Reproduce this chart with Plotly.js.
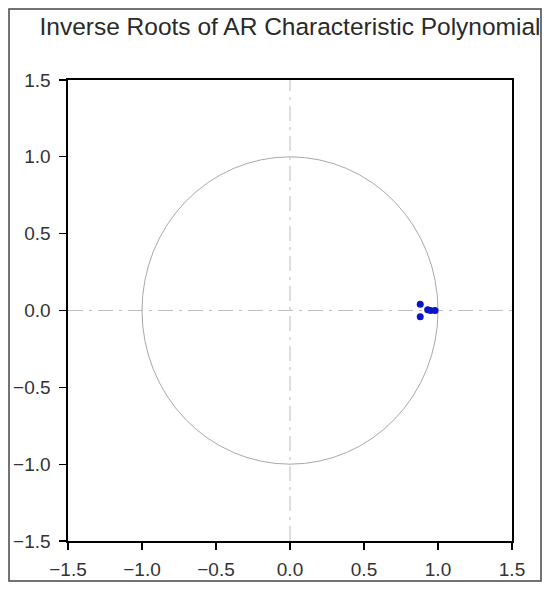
<!DOCTYPE html>
<html><head><meta charset="utf-8">
<script src="https://cdn.plot.ly/plotly-3.0.1.min.js"></script>
<style>html,body{margin:0;padding:0;background:#fff}#chart{width:550px;height:591px}</style>
</head><body><div id="chart"></div>
<script>
const rootsReal = [0.88, 0.88, 0.93, 0.95, 0.98];
const rootsImag = [0.04, -0.04, 0.005, 0.0, 0.0];
const tickVals = [-1.5, -1.0, -0.5, 0.0, 0.5, 1.0, 1.5];
const tickText = ["\u22121.5", "\u22121.0", "\u22120.5", "0.0", "0.5", "1.0", "1.5"];
const axisRange = [-1.5, 1.5];
const unitRadius = 1;

const traces = [{
  x: rootsReal, y: rootsImag, type: 'scatter', mode: 'markers',
  marker: {color: '#0a14c8', size: 7, symbol: 'circle'},
  hoverinfo: 'x+y', showlegend: false
}];

const axisCommon = {
  range: axisRange, tickvals: tickVals, ticktext: tickText,
  ticks: 'outside', ticklen: 7, tickwidth: 1.3, tickcolor: '#000',
  showline: true, linecolor: '#000', linewidth: 1.6, mirror: true,
  showgrid: false, zeroline: false, fixedrange: true,
  tickfont: {family: 'Liberation Sans, Arial, sans-serif', size: 19, color: '#333'}
};

const layout = {
  width: 550, height: 591,
  margin: {l: 68, r: 38, t: 80, b: 50},
  paper_bgcolor: '#fff', plot_bgcolor: '#fff',
  title: {text: 'Inverse Roots of AR Characteristic Polynomial', x: 290 / 550, xanchor: 'center',
          y: 1 - 26 / 591, yanchor: 'middle', yref: 'container',
          font: {family: 'Liberation Sans, Arial, sans-serif', size: 24.5, color: '#2a2a2a'}},
  xaxis: Object.assign({}, axisCommon, {ticklabelstandoff: 4}),
  yaxis: Object.assign({}, axisCommon, {ticklabelstandoff: 5}),
  shapes: [
    {type: 'circle', xref: 'x', yref: 'y', x0: -unitRadius, x1: unitRadius, y0: -unitRadius, y1: unitRadius,
     line: {color: '#a8a8a8', width: 1}, layer: 'below'},
    {type: 'line', xref: 'x', yref: 'y', x0: 0, x1: 0, y0: axisRange[0], y1: axisRange[1],
     line: {color: '#bdbdbd', width: 1, dash: 'longdashdot'}, layer: 'below'},
    {type: 'line', xref: 'x', yref: 'y', x0: axisRange[0], x1: axisRange[1], y0: 0, y1: 0,
     line: {color: '#bdbdbd', width: 1, dash: 'longdashdot'}, layer: 'below'},
    {type: 'rect', xref: 'paper', yref: 'paper',
     x0: (9 - 68) / 444, x1: (541 - 68) / 444, y0: -(581 - 541) / 461, y1: 1 + (80 - 9) / 461,
     line: {color: '#444', width: 1.5}, fillcolor: 'rgba(0,0,0,0)', layer: 'above'}
  ]
};

Plotly.newPlot('chart', traces, layout, {displayModeBar: false, staticPlot: true});
</script></body></html>
